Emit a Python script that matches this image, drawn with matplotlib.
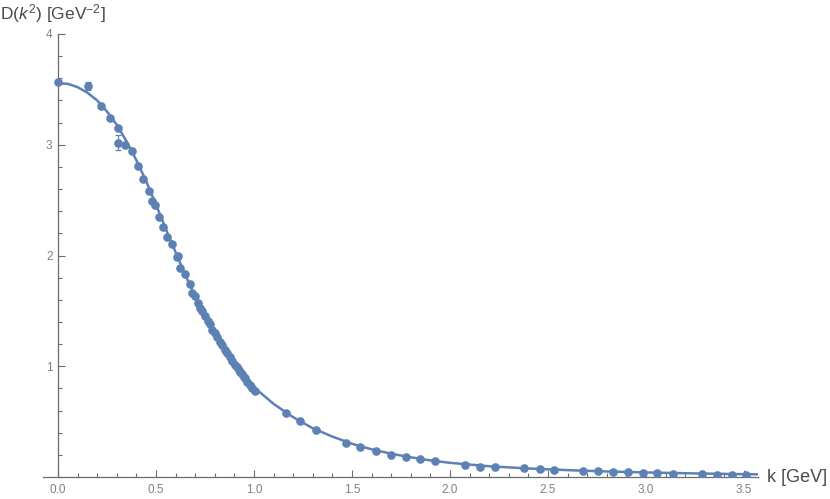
import matplotlib
matplotlib.use("Agg")
import matplotlib.pyplot as plt
from matplotlib.ticker import MultipleLocator, FixedLocator

plt.rcParams["font.family"] = ["Liberation Sans", "DejaVu Sans"]
plt.rcParams["mathtext.fontset"] = "custom"
plt.rcParams["mathtext.rm"] = "Liberation Sans"
plt.rcParams["mathtext.it"] = "Liberation Sans:italic"

# lattice data points (k in GeV, D in GeV^-2)
k_pts = [0.000, 0.220, 0.265, 0.306, 0.340, 0.377, 0.410, 0.434, 0.464, 0.480,
         0.495, 0.515, 0.536, 0.556, 0.582, 0.607, 0.612, 0.622, 0.648, 0.673,
         0.684, 0.700, 0.712, 0.724, 0.737, 0.750, 0.763, 0.776, 0.788, 0.800,
         0.812, 0.827, 0.838, 0.852, 0.862, 0.878, 0.888, 0.903, 0.912, 0.922,
         0.929, 0.938, 0.948, 0.954, 0.965, 0.980, 0.992, 1.005,
         1.163, 1.235, 1.316, 1.470, 1.540, 1.620, 1.700, 1.776, 1.847, 1.923,
         2.077, 2.153, 2.230, 2.380, 2.460, 2.530, 2.680, 2.755, 2.830, 2.910,
         2.985, 3.056, 3.140, 3.286, 3.360, 3.440, 3.510]
d_pts = [3.57, 3.35, 3.24, 3.15, 3.00, 2.94, 2.81, 2.69, 2.58, 2.49,
         2.46, 2.35, 2.26, 2.17, 2.10, 1.99, 2.00, 1.89, 1.83, 1.74,
         1.66, 1.63, 1.57, 1.53, 1.50, 1.45, 1.41, 1.38, 1.33, 1.30,
         1.26, 1.22, 1.19, 1.15, 1.12, 1.08, 1.05, 1.01, 0.99, 0.97,
         0.95, 0.93, 0.90, 0.89, 0.86, 0.83, 0.80, 0.78,
         0.58, 0.51, 0.425, 0.31, 0.27, 0.235, 0.20, 0.18, 0.163, 0.145,
         0.109, 0.090, 0.090, 0.081, 0.072, 0.063, 0.057, 0.054, 0.048, 0.042,
         0.039, 0.033, 0.027, 0.024, 0.021, 0.018, 0.018]

# points with visible error bars
k_err = [0.153, 0.306]
d_err = [3.53, 3.02]
e_err = [0.04, 0.07]

# fitted curve
k_fit = [0.0, 0.05, 0.1, 0.15, 0.2, 0.25, 0.3, 0.35, 0.4, 0.45, 0.5, 0.55, 0.6,
         0.65, 0.7, 0.75, 0.8, 0.85, 0.9, 0.95, 1.0, 1.1, 1.2, 1.3, 1.4, 1.5,
         1.6, 1.7, 1.8, 1.9, 2.0, 2.2, 2.4, 2.6, 2.8, 3.0, 3.2, 3.4, 3.57]
d_fit = [3.555, 3.55, 3.52, 3.47, 3.40, 3.30, 3.18, 3.03, 2.86, 2.67, 2.46, 2.24,
         2.03, 1.82, 1.63, 1.45, 1.29, 1.15, 1.02, 0.91, 0.81, 0.66, 0.54, 0.44,
         0.365, 0.30, 0.25, 0.21, 0.178, 0.15, 0.128, 0.097, 0.077, 0.062, 0.050,
         0.041, 0.034, 0.028, 0.024]

blue = "#5E81B5"
axis_gray = "#6b6b6b"
label_gray = "#808080"
text_gray = "#4a4a4a"

fig = plt.figure(figsize=(8.30, 4.99), dpi=100)
ax = fig.add_axes([43.3 / 830, 22 / 499, 714.4 / 830, 443 / 499])

ax.plot(k_fit, d_fit, color=blue, lw=1.8, solid_capstyle="round", zorder=2)
ax.plot(k_pts, d_pts, "o", color=blue, ms=5.2, mec=blue, zorder=3)
ax.errorbar(k_err, d_err, yerr=e_err, fmt="o", color=blue, ms=5.2,
            ecolor=blue, elinewidth=0.9, capsize=2.2, capthick=0.9, zorder=3)

ax.set_xlim(-0.075, 3.57)
ax.set_ylim(0, 4.0)

for side in ("top", "right"):
    ax.spines[side].set_visible(False)
ax.spines["left"].set_position(("data", 0))
ax.spines["bottom"].set_position(("data", 0))
for side in ("left", "bottom"):
    ax.spines[side].set_color(axis_gray)
    ax.spines[side].set_linewidth(0.9)

ax.xaxis.set_major_locator(FixedLocator([0.0, 0.5, 1.0, 1.5, 2.0, 2.5, 3.0, 3.5]))
ax.xaxis.set_minor_locator(MultipleLocator(0.1))
ax.yaxis.set_major_locator(FixedLocator([1, 2, 3, 4]))
ax.yaxis.set_minor_locator(MultipleLocator(0.2))
ax.set_xticklabels(["0.0", "0.5", "1.0", "1.5", "2.0", "2.5", "3.0", "3.5"])
ax.set_yticklabels(["1", "2", "3", "4"])

ax.tick_params(which="both", direction="in", color=axis_gray, width=0.8,
               labelcolor=label_gray, labelsize=8.5)
ax.tick_params(which="major", length=5)
ax.tick_params(which="minor", length=2.8)
ax.tick_params(axis="x", pad=5)
ax.tick_params(axis="y", pad=4)

fig.text(0.0, 1 - 19 / 499, r"D($k^2$) [GeV$^{-2}$]", fontsize=12.5,
         color=text_gray, ha="left", va="baseline")
fig.text(767 / 830, 1 - 477 / 499, "k [GeV]", fontsize=13,
         color=text_gray, ha="left", va="center")

fig.savefig("out.png", dpi=100)
